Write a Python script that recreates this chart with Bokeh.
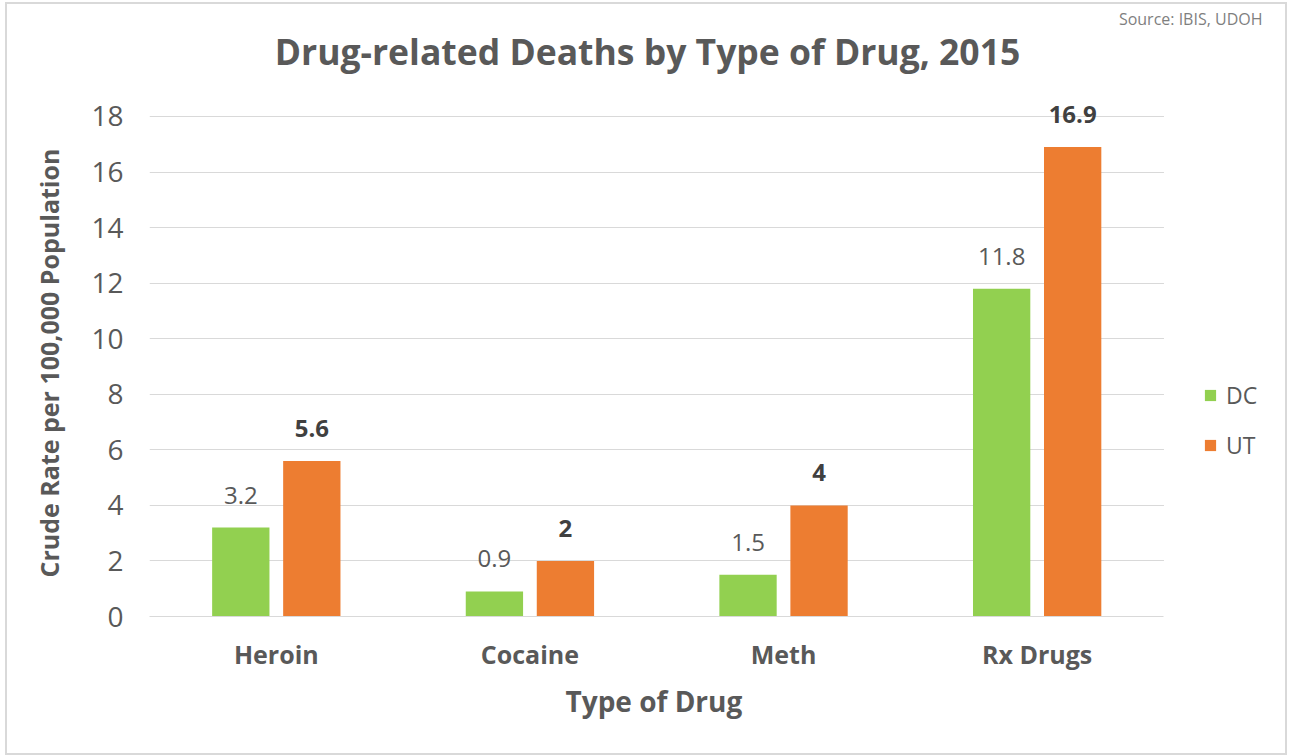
from bokeh.plotting import figure
from bokeh.models import (ColumnDataSource, LabelSet, Label, FixedTicker, Legend, LegendItem,
                          BoxAnnotation, Range1d, Title)
from bokeh.embed import file_html
from bokeh.resources import INLINE
from bokeh.core.properties import value

categories = ["Heroin", "Cocaine", "Meth", "Rx Drugs"]
dc_values = [3.2, 0.9, 1.5, 11.8]
ut_values = [5.6, 2, 4, 16.9]
dc_labels = ["3.2", "0.9", "1.5", "11.8"]
ut_labels = ["5.6", "2", "4", "16.9"]
y_ticks = [0, 2, 4, 6, 8, 10, 12, 14, 16, 18]
series_names = ["DC", "UT"]

FONT = "Open Sans"
GREEN = "#92d050"
ORANGE = "#ed7d31"
TEXT = "#595959"

# category slots: one unit per category, bars dodged inside each slot
centers = [i + 0.5 for i in range(len(categories))]
OFF, BW = 0.14, 0.226
src = ColumnDataSource(dict(
    xd=[c - OFF for c in centers], xu=[c + OFF for c in centers],
    dc=dc_values, ut=ut_values, dcl=dc_labels, utl=ut_labels))

n = len(categories)
p = figure(x_range=Range1d(0, n + 0.495), y_range=Range1d(0, 22.03),
           width=1282, height=753, output_backend="svg", toolbar_location=None,
           title=None,
           min_border_left=142, min_border_right=0, min_border_top=0,
           min_border_bottom=141)
p.styles = {"border": "2px solid #d9d9d9", "margin-left": "5px", "margin-top": "2px"}

r_dc = p.vbar(x="xd", top="dc", width=BW, source=src, fill_color=GREEN, line_color=None)
r_ut = p.vbar(x="xu", top="ut", width=BW, source=src, fill_color=ORANGE, line_color=None)

# white mask so gridlines stop at the end of the category area
p.add_layout(BoxAnnotation(left=n, fill_color="white", fill_alpha=1, line_color=None))

p.add_layout(LabelSet(x="xd", y="dc", text="dcl", source=src,
                      text_align="center", text_baseline="alphabetic", y_offset=24,
                      text_font=value(FONT), text_font_size="24px", text_color=TEXT))
p.add_layout(LabelSet(x="xu", y="ut", text="utl", source=src,
                      text_align="center", text_baseline="alphabetic", y_offset=24,
                      text_font=value(FONT), text_font_size="24px", text_font_style="bold",
                      text_color="#404040"))

# title and source (screen px relative to the plot frame)
p.add_layout(Label(x=498, y=566, x_units="screen", y_units="screen",
                   text="Drug-related Deaths by Type of Drug, 2015",
                   text_align="center", text_baseline="middle", text_font=FONT,
                   text_font_size="35.5px", text_font_style="bold", text_color=TEXT))
p.add_layout(Label(x=1113, y=598, x_units="screen", y_units="screen",
                   text="Source: IBIS, UDOH", text_align="right", text_baseline="middle",
                   text_font=FONT, text_font_size="16px", text_color="#7f7f7f"))

# axes
p.yaxis.ticker = FixedTicker(ticks=y_ticks)
p.xaxis.ticker = FixedTicker(ticks=centers)
p.xaxis.major_label_overrides = {c: cat for c, cat in zip(centers, categories)}
p.xaxis.bounds = (0, n)
for ax in (p.xaxis[0], p.yaxis[0]):
    ax.major_tick_line_color = None
    ax.minor_tick_line_color = None
    ax.major_label_text_font = FONT
    ax.major_label_text_color = TEXT

p.yaxis.axis_line_color = None
p.yaxis.major_label_text_font_size = "28px"
p.yaxis.major_label_standoff = 20

p.xaxis.axis_line_color = "#d9d9d9"
p.xaxis.major_label_text_font_size = "25px"
p.xaxis.major_label_text_font_style = "bold"
p.xaxis.major_label_standoff = 14

# axis titles, positioned over the category area
p.add_layout(Title(text="Type of Drug", align="left", offset=416, standoff=13,
                   text_font=FONT, text_font_size="28px", text_font_style="bold",
                   text_color=TEXT), "below")
p.add_layout(Title(text="Crude Rate per 100,000 Population", align="left", offset=39,
                   standoff=45, text_font=FONT, text_font_size="25px",
                   text_font_style="bold", text_color=TEXT), "left")

p.xgrid.grid_line_color = None
p.ygrid.grid_line_color = "#d9d9d9"
p.ygrid.grid_line_width = 1
p.outline_line_color = None

leg = Legend(items=[LegendItem(label=series_names[0], renderers=[r_dc]),
                    LegendItem(label=series_names[1], renderers=[r_ut])],
             location=(1054, 155))
leg.border_line_color = None
leg.background_fill_alpha = 0
leg.padding = 0
leg.margin = 0
leg.spacing = 18
leg.glyph_width = 14
leg.glyph_height = 14
leg.label_height = 14
leg.label_standoff = 9
leg.label_text_font = FONT
leg.label_text_font_size = "23px"
leg.label_text_color = TEXT
p.add_layout(leg)

open("out.html", "w").write(file_html(p, INLINE))
